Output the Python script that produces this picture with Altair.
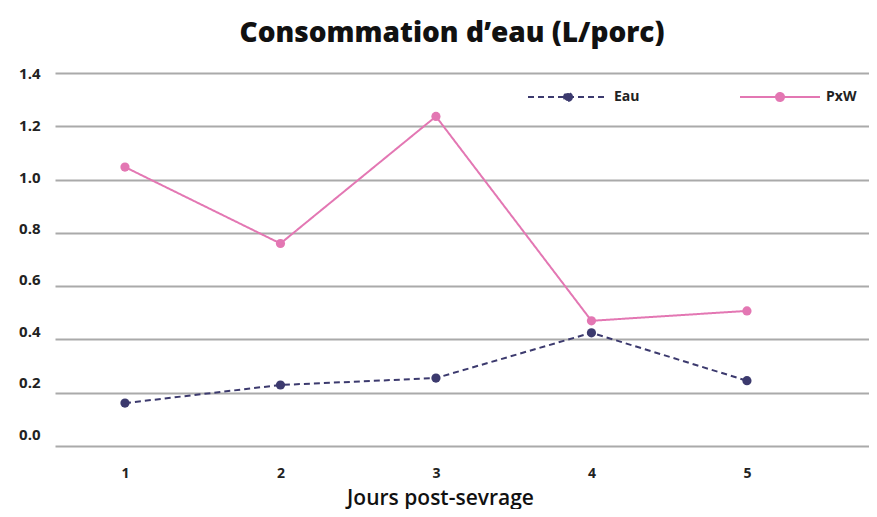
import altair as alt
import pandas as pd

days = [1, 2, 3, 4, 5]
eau = [0.161, 0.229, 0.255, 0.425, 0.245]
pxw = [1.047, 0.760, 1.237, 0.470, 0.507]
series_names = ["Eau", "PxW"]
colors = ["#3c3a6e", "#e377b3"]
y_ticks = [0.0, 0.2, 0.4, 0.6, 0.8, 1.0, 1.2, 1.4]

rows = []
for d, v in zip(days, eau):
    rows.append({"jour": d, "valeur": v, "serie": "Eau"})
for d, v in zip(days, pxw):
    rows.append({"jour": d, "valeur": v, "serie": "PxW"})
df = pd.DataFrame(rows)

font = "Open Sans"

x = alt.X(
    "jour:Q",
    scale=alt.Scale(domain=[0.55, 5.785], nice=False, zero=False),
    axis=alt.Axis(
        values=days,
        format="d",
        grid=False,
        domain=False,
        ticks=False,
        labelPadding=20,
        labelFont=font,
        labelFontSize=14,
        labelFontWeight="bold",
        labelColor="#222222",
        title="Jours post-sevrage",
        titleFont=font,
        titleFontSize=21,
        titleFontWeight=600,
        titleColor="#111111",
        titlePadding=7,
        titleX=385,
    ),
)
y = alt.Y(
    "valeur:Q",
    scale=alt.Scale(domain=[0, 1.4], nice=False),
    axis=alt.Axis(
        values=y_ticks,
        format=".1f",
        grid=True,
        gridColor="#aaaaaa",
        gridWidth=2,
        domain=False,
        ticks=False,
        labelPadding=15,
        labelFont=font,
        labelFontSize=15,
        labelFontWeight="bold",
        labelColor="#222222",
        labelOffset={
            "condition": [
                {"test": "datum.value < -1", "value": 0},
                {"test": "datum.value < 0.1", "value": -12},
                {"test": "datum.value < 0.3", "value": -10},
                {"test": "datum.value < 0.5", "value": -8},
                {"test": "datum.value < 0.7", "value": -7},
                {"test": "datum.value < 0.9", "value": -4.5},
                {"test": "datum.value < 1.1", "value": -2},
                {"test": "datum.value < 1.3", "value": -1},
            ],
            "value": 0,
        },
        title=None,
    ),
)

color = alt.Color(
    "serie:N",
    scale=alt.Scale(domain=series_names, range=colors),
    legend=alt.Legend(
        title=None,
        orient="none",
        legendX=472,
        legendY=-17,
        direction="horizontal",
        symbolType="M-1,0H1M0.1,0A0.1,0.1,0,1,1,-0.1,0A0.1,0.1,0,1,1,0.1,0Z",
        symbolSize=6400,
        symbolStrokeWidth=2,
        columnPadding=96,
        labelFont=font,
        labelFontSize=14,
        labelFontWeight="bold",
        labelColor="#222222",
        labelOffset=5,
    ),
)
dash = alt.StrokeDash(
    "serie:N",
    scale=alt.Scale(domain=series_names, range=[[6, 4], [1, 0]]),
    legend=None,
)

points = alt.Chart(df).mark_point(filled=True, size=85, opacity=1).encode(
    x=x, y=y, color=color, strokeDash=dash
)
lines = alt.Chart(df).mark_line(strokeWidth=2).encode(
    x=x, y=y, color=color, strokeDash=dash
)

chart = (
    alt.layer(points, lines)
    .properties(
        width=814,
        height=373,
        padding={"left": 47, "top": 65, "right": 0, "bottom": 63},
        autosize=alt.AutoSizeParams(type="none"),
        title=alt.TitleParams(
            text="Consommation d\u2019eau (L/porc)",
            font=font,
            fontSize=28,
            fontWeight=800,
            color="#111111",
            anchor="middle",
            dx=-10,
            offset=8,
        ),
    )
    .configure_view(stroke=None)
)

chart.save("out.html", embed_options={"renderer": "svg", "actions": False})
